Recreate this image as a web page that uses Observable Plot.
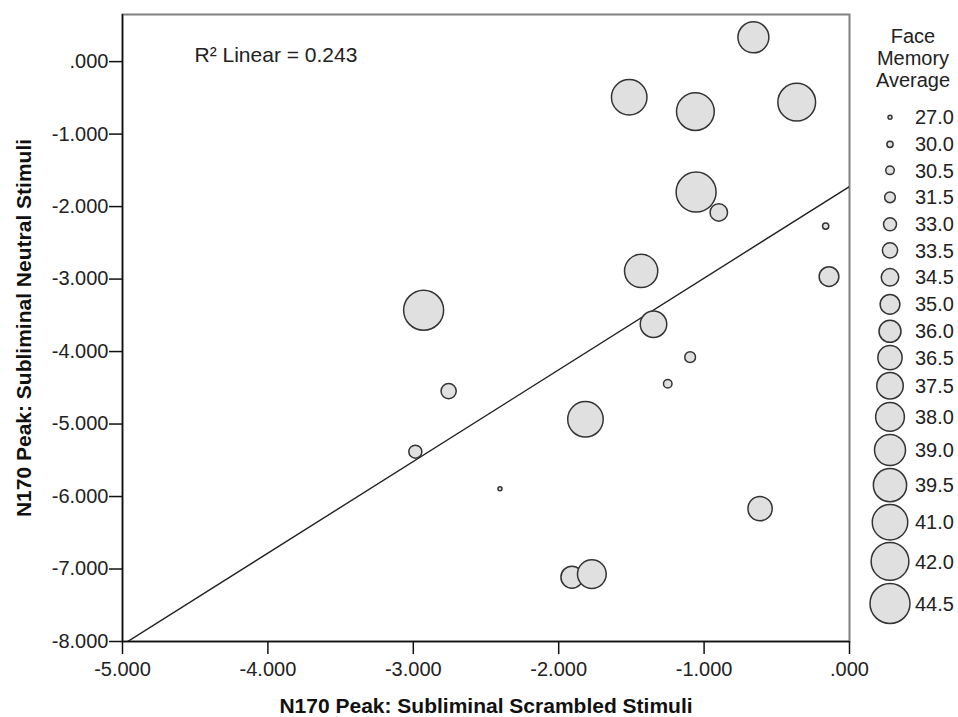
<!DOCTYPE html>
<html><head><meta charset="utf-8">
<script src="https://cdn.jsdelivr.net/npm/d3@7"></script>
<script src="https://cdn.jsdelivr.net/npm/@observablehq/plot@0.6"></script>
<style>
body{margin:0;background:#fff;font-family:"Liberation Sans",Arial,sans-serif;}
#wrap{position:relative;width:958px;height:717px;}
#legend{position:absolute;left:868px;top:25px;width:90px;color:#222;font-size:20px;}
#legend .lt{text-align:center;line-height:22px;margin-bottom:13px;}
#legend .row{display:flex;align-items:center;}
#legend .row svg{flex:none;display:block;}
#legend .row span{margin-left:3px;line-height:1;}
</style></head>
<body><div id="wrap"></div>
<script>
// ---- data ----
const scrambled = [-2.929, -0.661, -1.515, -1.060, -0.363, -1.055, -0.899, -0.164, -1.433, -0.141,
                   -1.348, -1.096, -2.757, -1.250, -1.816, -2.986, -2.404, -0.615, -1.909, -1.772];
const neutral   = [-3.430, 0.335, -0.492, -0.689, -0.560, -1.800, -2.080, -2.268, -2.888, -2.966,
                   -3.623, -4.077, -4.545, -4.445, -4.935, -5.381, -5.891, -6.167, -7.112, -7.070];
const memory    = [44.5, 39.0, 41.0, 42.0, 42.0, 44.5, 34.5, 30.0, 39.5, 35.0,
                   37.5, 31.5, 33.5, 30.5, 41.0, 33.0, 27.0, 36.5, 36.0, 38.0];
const faceLevels = [27.0, 30.0, 30.5, 31.5, 33.0, 33.5, 34.5, 35.0, 36.0, 36.5, 37.5, 38.0, 39.0, 39.5, 41.0, 42.0, 44.5];
const xTicks = [-5, -4, -3, -2, -1, 0];
const xTickLabels = ["-5.000", "-4.000", "-3.000", "-2.000", "-1.000", ".000"];
const yTicks = [-8, -7, -6, -5, -4, -3, -2, -1, 0];
const yTickLabels = ["-8.000", "-7.000", "-6.000", "-5.000", "-4.000", "-3.000", "-2.000", "-1.000", ".000"];
const xDomain = [-5, 0];
const yDomain = [-8, 0.65];
const r2Label = "R\u00B2 Linear = 0.243";
const xTitle = "N170 Peak: Subliminal Scrambled Stimuli";
const yTitle = "N170 Peak: Subliminal Neutral Stimuli";
const legendTitle = ["Face", "Memory", "Average"];

// ---- derived ----
const points = scrambled.map((x, i) => ({x, y: neutral[i], m: memory[i], rank: faceLevels.indexOf(memory[i])}));
const mx = d3.mean(scrambled), my = d3.mean(neutral);
const b1 = d3.sum(points, d => (d.x - mx) * (d.y - my)) / d3.sum(points, d => (d.x - mx) ** 2);
const b0 = my - b1 * mx;
const fit = xDomain.map(x => ({x, y: b0 + b1 * x}));

const plot = Plot.plot({
  width: 958, height: 717,
  marginLeft: 122, marginRight: 109, marginTop: 14, marginBottom: 76,
  style: {fontFamily: "'Liberation Sans', Arial, sans-serif", fontSize: "20px", color: "#222", background: "white"},
  x: {domain: xDomain},
  y: {domain: yDomain},
  r: {type: "linear", domain: [0, faceLevels.length - 1], range: [2, 20]},
  marks: [
    Plot.frame({stroke: "#808080", strokeWidth: 2}),
    Plot.line(fit, {x: "x", y: "y", stroke: "#222", strokeWidth: 1.4, clip: true}),
    Plot.dot(points, {x: "x", y: "y", r: "rank", fill: "#e0e0e0", stroke: "#333", strokeWidth: 1.5, sort: null}),
    Plot.ruleX([xDomain[0]], {stroke: "#111", strokeWidth: 1.5}),
    Plot.ruleY([yDomain[0]], {stroke: "#111", strokeWidth: 1.5}),
    Plot.axisX({ticks: xTicks, tickFormat: d => xTickLabels[xTicks.indexOf(d)], tickSize: 13, tickPadding: 7, strokeWidth: 1.5, stroke: "#111", label: null}),
    Plot.axisY({ticks: yTicks, tickFormat: d => yTickLabels[yTicks.indexOf(d)], tickSize: 13, tickPadding: 1, strokeWidth: 1.5, stroke: "#111", label: null}),
    Plot.text([r2Label], {frameAnchor: "top-left", dx: 72, dy: 47, lineAnchor: "bottom", textAnchor: "start", fontSize: 21, fill: "#222"}),
    Plot.text([xTitle], {frameAnchor: "bottom", dy: 71, fontWeight: "bold", fontSize: 21, fill: "#111"}),
    Plot.text([yTitle], {frameAnchor: "left", dx: -98.5, rotate: -90, textAnchor: "middle", fontWeight: "bold", fontSize: 21, fill: "#111"})
  ]
});
const wrap = document.getElementById("wrap");
wrap.appendChild(plot);

// ---- size legend ----
const rScale = plot.scale("r");
const legend = document.createElement("div");
legend.id = "legend";
const lt = document.createElement("div");
lt.className = "lt";
lt.innerHTML = legendTitle.join("<br>");
legend.appendChild(lt);
faceLevels.forEach((v, i) => {
  const r = rScale.apply(i);
  const h = Math.max(26.7, 2 * r + 3);
  const row = document.createElement("div");
  row.className = "row";
  row.style.height = h + "px";
  const svg = d3.create("svg").attr("width", 44).attr("height", h);
  svg.append("circle").attr("cx", 22).attr("cy", h / 2).attr("r", r)
    .attr("fill", "#e0e0e0").attr("stroke", "#333").attr("stroke-width", 1.5);
  row.appendChild(svg.node());
  const s = document.createElement("span");
  s.textContent = v.toFixed(1);
  row.appendChild(s);
  legend.appendChild(row);
});
wrap.appendChild(legend);
</script></body></html>
